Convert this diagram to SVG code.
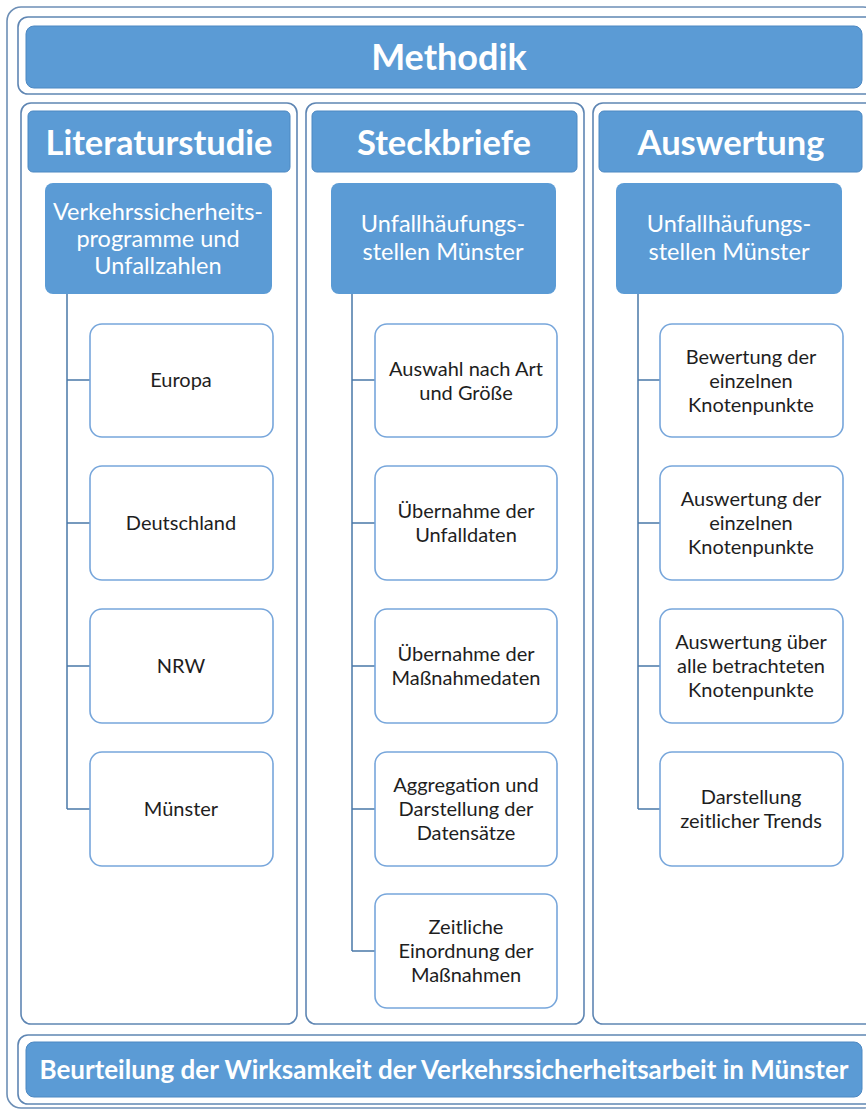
<svg xmlns="http://www.w3.org/2000/svg" width="866" height="1112" viewBox="0 0 866 1112">
<style>
.frame{fill:#fff;stroke:#6d8fb6;stroke-width:1.6}
.cont{fill:#fff;stroke:#5f86b3;stroke-width:1.6}
.bar{fill:#5b9bd5;stroke:#4d88c2;stroke-width:1}
.sub{fill:#5b9bd5}
.child{fill:#fff;stroke:#77a6db;stroke-width:1.6}
.conn{fill:none;stroke:#4a78a8;stroke-width:1.5}
.t-main{font-family:Lato,"Open Sans",sans-serif;font-weight:bold;fill:#fff;text-anchor:middle}
.t-sub{font-family:Lato,"Open Sans",sans-serif;fill:#fff;text-anchor:middle;font-size:23.5px}
.t-ch{font-family:Lato,"Open Sans",sans-serif;fill:#1e1e1e;text-anchor:middle;font-size:20px}
</style>
<rect class="frame" x="7" y="7" width="870" height="1101" rx="14"/>
<g id="methodik">
<rect class="cont" x="18" y="17" width="860" height="77" rx="10"/>
<rect class="bar" x="26" y="26" width="836" height="62" rx="8"/>
<text class="t-main" x="449" y="70" font-size="36">Methodik</text>
</g>
<g id="col-literatur">
<rect class="cont" x="21" y="103" width="276" height="921" rx="10"/>
<rect class="bar" x="28" y="111" width="262" height="61" rx="5"/>
<text class="t-main" x="159" y="155" font-size="34.5">Literaturstudie</text>
</g>
<g id="col-steckbriefe">
<rect class="cont" x="306" y="103" width="278" height="921" rx="10"/>
<rect class="bar" x="312" y="111" width="265" height="61" rx="5"/>
<text class="t-main" x="444" y="155" font-size="34.5">Steckbriefe</text>
</g>
<g id="col-auswertung">
<rect class="cont" x="593" y="103" width="285" height="921" rx="10"/>
<rect class="bar" x="599" y="111" width="263" height="61" rx="5"/>
<text class="t-main" x="731" y="155" font-size="34.5">Auswertung</text>
</g>
<g id="connectors">
<path class="conn" d="M67 294V809M67 380H90M67 523H90M67 666H90M67 809H90"/>
<path class="conn" d="M352 294V951M352 380H375M352 523H375M352 666H375M352 809H375M352 951H375"/>
<path class="conn" d="M638 294V809M638 380H660M638 523H660M638 666H660M638 809H660"/>
</g>
<g id="lit-head">
<rect class="sub" x="45" y="183" width="227" height="111" rx="8"/>
<text class="t-sub" x="158" y="220">Verkehrssicherheits-</text>
<text class="t-sub" x="158" y="247">programme und</text>
<text class="t-sub" x="158" y="274">Unfallzahlen</text>
</g>
<g id="steck-head">
<rect class="sub" x="331" y="183" width="225" height="111" rx="8"/>
<text class="t-sub" x="443" y="232">Unfallhäufungs-</text>
<text class="t-sub" x="443" y="260">stellen Münster</text>
</g>
<g id="ausw-head">
<rect class="sub" x="616" y="183" width="226" height="111" rx="8"/>
<text class="t-sub" x="729" y="232">Unfallhäufungs-</text>
<text class="t-sub" x="729" y="260">stellen Münster</text>
</g>
<g id="lit-europa">
<rect class="child" x="90" y="324" width="183" height="113" rx="12"/>
<text class="t-ch" x="181" y="387">Europa</text>
</g>
<g id="lit-deutschland">
<rect class="child" x="90" y="466" width="183" height="114" rx="12"/>
<text class="t-ch" x="181" y="530">Deutschland</text>
</g>
<g id="lit-nrw">
<rect class="child" x="90" y="609" width="183" height="114" rx="12"/>
<text class="t-ch" x="181" y="673">NRW</text>
</g>
<g id="lit-muenster">
<rect class="child" x="90" y="752" width="183" height="114" rx="12"/>
<text class="t-ch" x="181" y="816">Münster</text>
</g>
<g id="st-auswahl">
<rect class="child" x="375" y="324" width="182" height="113" rx="12"/>
<text class="t-ch" x="466" y="376">Auswahl nach Art</text>
<text class="t-ch" x="466" y="400">und Größe</text>
</g>
<g id="st-unfalldaten">
<rect class="child" x="375" y="466" width="182" height="114" rx="12"/>
<text class="t-ch" x="466" y="518">Übernahme der</text>
<text class="t-ch" x="466" y="542">Unfalldaten</text>
</g>
<g id="st-massnahmedaten">
<rect class="child" x="375" y="609" width="182" height="114" rx="12"/>
<text class="t-ch" x="466" y="661">Übernahme der</text>
<text class="t-ch" x="466" y="685">Maßnahmedaten</text>
</g>
<g id="st-aggregation">
<rect class="child" x="375" y="752" width="182" height="114" rx="12"/>
<text class="t-ch" x="466" y="792">Aggregation und</text>
<text class="t-ch" x="466" y="816">Darstellung der</text>
<text class="t-ch" x="466" y="840">Datensätze</text>
</g>
<g id="st-zeitlich">
<rect class="child" x="375" y="894" width="182" height="114" rx="12"/>
<text class="t-ch" x="466" y="934">Zeitliche</text>
<text class="t-ch" x="466" y="958">Einordnung der</text>
<text class="t-ch" x="466" y="982">Maßnahmen</text>
</g>
<g id="au-bewertung">
<rect class="child" x="660" y="324" width="183" height="113" rx="12"/>
<text class="t-ch" x="751" y="364">Bewertung der</text>
<text class="t-ch" x="751" y="388">einzelnen</text>
<text class="t-ch" x="751" y="412">Knotenpunkte</text>
</g>
<g id="au-auswertung-einzeln">
<rect class="child" x="660" y="466" width="183" height="114" rx="12"/>
<text class="t-ch" x="751" y="506">Auswertung der</text>
<text class="t-ch" x="751" y="530">einzelnen</text>
<text class="t-ch" x="751" y="554">Knotenpunkte</text>
</g>
<g id="au-auswertung-alle">
<rect class="child" x="660" y="609" width="183" height="114" rx="12"/>
<text class="t-ch" x="751" y="649">Auswertung über</text>
<text class="t-ch" x="751" y="673">alle betrachteten</text>
<text class="t-ch" x="751" y="697">Knotenpunkte</text>
</g>
<g id="au-trends">
<rect class="child" x="660" y="752" width="183" height="114" rx="12"/>
<text class="t-ch" x="751" y="804">Darstellung</text>
<text class="t-ch" x="751" y="828">zeitlicher Trends</text>
</g>
<g id="beurteilung">
<rect class="cont" x="18" y="1035" width="860" height="69" rx="10"/>
<rect class="bar" x="26" y="1042" width="836" height="55" rx="8"/>
<text class="t-main" x="444" y="1079" font-size="26">Beurteilung der Wirksamkeit der Verkehrssicherheitsarbeit in Münster</text>
</g>
</svg>
